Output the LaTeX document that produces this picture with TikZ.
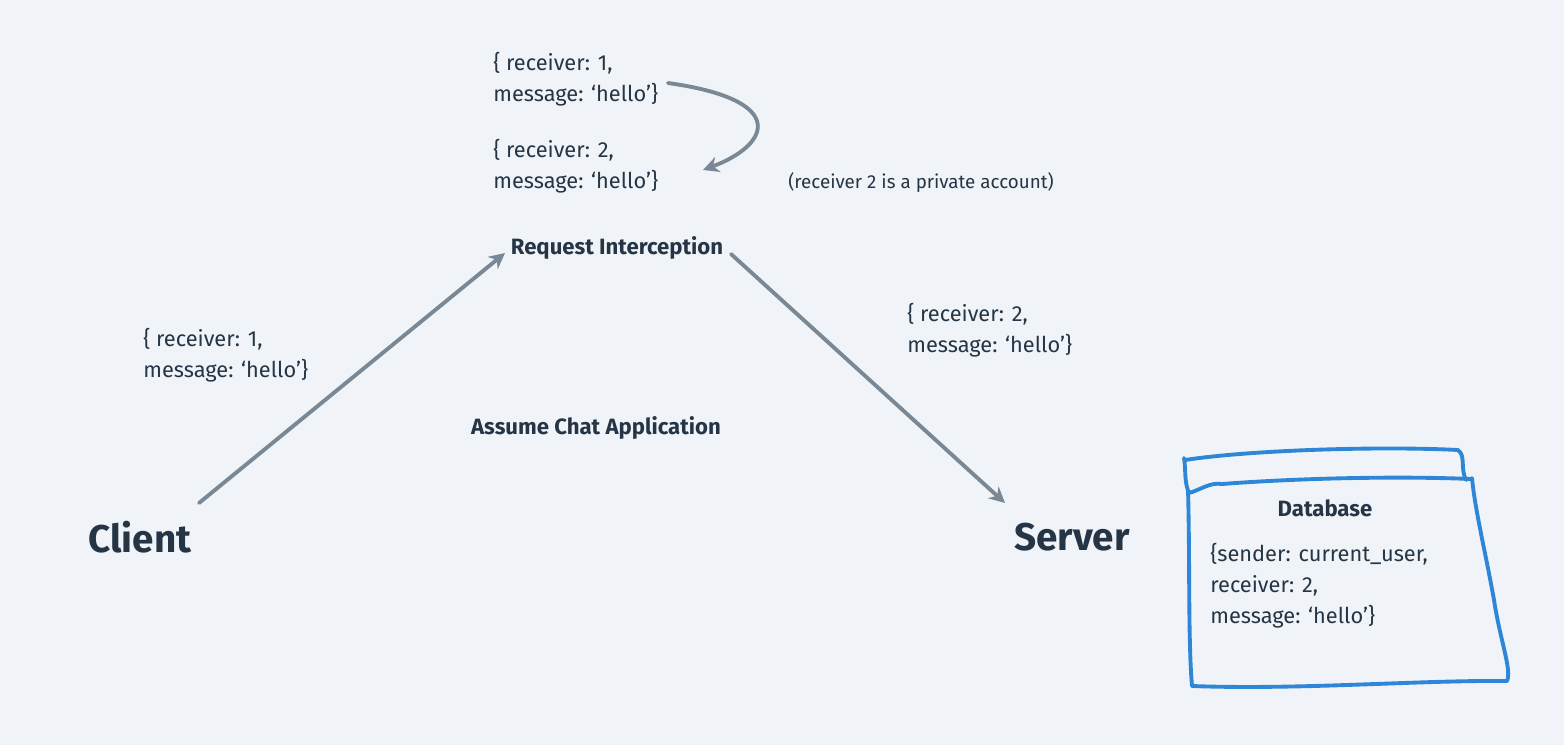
\documentclass[tikz,border=0pt]{standalone}
\usepackage{fontspec}
\setmainfont{Fira Sans}
\usetikzlibrary{arrows.meta,positioning}
\definecolor{bgcol}{HTML}{F0F4F8}
\definecolor{textcol}{HTML}{263545}
\definecolor{arrowcol}{HTML}{7A8896}
\definecolor{dbcol}{HTML}{2E86D6}
\tikzstyle{code} = [inner sep=0pt, align=left, anchor=west, text=textcol,
    font=\fontsize{12.4}{17.6}\selectfont]
\tikzstyle{label} = [inner sep=0pt, text=textcol, font=\fontsize{12.6}{14}\selectfont\bfseries]
\tikzstyle{party} = [inner sep=0pt, text=textcol, font=\fontsize{22}{26}\selectfont\bfseries]
\tikzstyle{line} = [draw=arrowcol, line width=2.2pt, line cap=round, -{Stealth[length=9pt,width=9pt]}]
\tikzstyle{hand} = [draw=dbcol, line width=2.2pt, line cap=round, line join=round]

\begin{document}
\begin{tikzpicture}[x=0.02cm, y=-0.02cm]
		% Background
		\fill[bgcol] (0,0) rectangle (1564,745);
		\useasboundingbox (0,0) rectangle (1564,745);
		% Draw nodes
		\node [code] (first) at (493,79) {\{ receiver: 1,\\message: `hello'\}};
		\node [code] (changed) at (493,166) {\{ receiver: 2,\\message: `hello'\}};
		\node [inner sep=0pt, text=textcol, font=\fontsize{10.7}{12}\selectfont] (note) at (921,183) {(receiver 2 is a private account)};
		\node [label] (intercept) at (617,248) {Request Interception};
		\node [code] (sent) at (143,355) {\{ receiver: 1,\\message: `hello'\}};
		\node [code] (forwarded) at (907,330) {\{ receiver: 2,\\message: `hello'\}};
		\node [label] (assume) at (596,428) {Assume Chat Application};
		\node [party] (client) at (140,537) {Client};
		\node [party] (server) at (1072,537) {Server};
		\node [label] (dbtitle) at (1325,508) {Database};
		\node [code] (record) at (1210,586) {\{sender: current\_user,\\receiver: 2,\\message: `hello'\}};
		% Helper coordinates
		\coordinate (clientout) at (199,503);
		\coordinate (interceptin) at (505,253);
		\coordinate (interceptout) at (731,254);
		\coordinate (serverin) at (1005,503);
		\coordinate (firstout) at (668,83);
		\coordinate (changedin) at (703,170);
		% Draw lines connecting (arrows)
		\path [line] (clientout) -- (interceptin);
		\path [line] (interceptout) -- (serverin);
		\path [line] (firstout) .. controls (790,100) and (770,145) .. (changedin);
		% Database box, drawn by hand
		\path [hand] (1185,460) .. controls (1250,450) and (1380,446) .. (1458,450)
			.. controls (1466,456) and (1460,468) .. (1466,480);
		\path [hand] (1184,458) .. controls (1186,470) and (1184,482) .. (1189,493)
			.. controls (1200,490) and (1210,482) .. (1222,484)
			.. controls (1300,478) and (1400,476) .. (1471,479);
		\path [hand] (1188,490) .. controls (1190,560) and (1188,640) .. (1192,686)
			.. controls (1300,690) and (1420,680) .. (1507,681)
			.. controls (1512,670) and (1500,640) .. (1494,600)
			.. controls (1485,550) and (1475,510) .. (1472,478);
\end{tikzpicture}
\end{document}
